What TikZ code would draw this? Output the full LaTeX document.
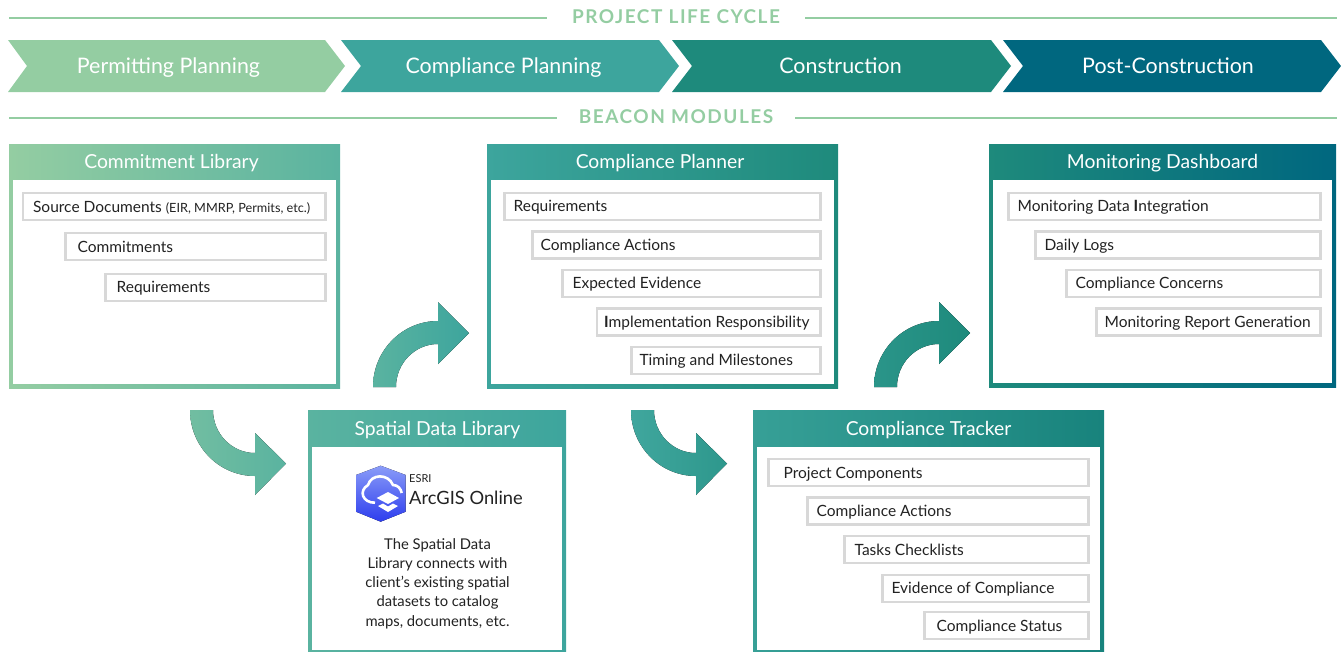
\documentclass[tikz,border=0pt]{standalone}
\usepackage{fontspec}
\setmainfont{Lato}
\usetikzlibrary{positioning}
\definecolor{cgreen}{HTML}{94CDA2}
\definecolor{cmint}{HTML}{5AB3A0}
\definecolor{cteal}{HTML}{3DA59D}
\definecolor{cdeep}{HTML}{1E8A7C}
\definecolor{cblue}{HTML}{00677F}
\definecolor{cgrey}{HTML}{D8D8D8}
\definecolor{ctext}{HTML}{222222}
\definecolor{chexa}{HTML}{8A9CF8}
\definecolor{chexb}{HTML}{2D3DEE}

\begin{document}
\begin{tikzpicture}[x=1pt,y=-1pt,
  rulehead/.style={font=\bfseries\fontsize{19}{19}\selectfont,text=cgreen,inner sep=0pt,text height=13.7pt,text depth=0pt},
  rule line/.style={draw=cgreen,line width=2.5pt},
  phase/.style={font=\fontsize{21.4}{21.4}\selectfont,text=white,inner sep=0pt,text height=15.4pt,text depth=0pt},
  panel/.style={anchor=north west,inner sep=0pt,outer sep=0pt},
  hole/.style={anchor=north west,fill=white,inner sep=0pt,outer sep=0pt},
  head/.style={font=\fontsize{19.3}{19.3}\selectfont,text=white,inner sep=0pt,text height=13.9pt,text depth=0pt},
  item/.style={anchor=north east,draw=cgrey,line width=2.3pt,fill=white,minimum height=27pt,inner sep=0pt},
  label/.style={inner sep=0pt,text=ctext,font=\fontsize{15.5}{15.5}\selectfont,text height=11.2pt,text depth=0pt},
  body/.style={font=\fontsize{14.8}{19.2}\selectfont,text=ctext,align=center,inner sep=0pt}]
  \useasboundingbox (0,0) rectangle (1341,651);
  \clip (0,0) rectangle (1341,651);

  \coordinate (l1) at (9,18);
  \coordinate (l2) at (547,18);
  \coordinate (l3) at (805,18);
  \coordinate (l4) at (1337,18);
  \coordinate (m1) at (9,118);
  \coordinate (m2) at (557,118);
  \coordinate (m3) at (795,118);
  \coordinate (m4) at (1337,118);
  \draw[rule line] (l1) -- (l2) (l3) -- (l4) (m1) -- (m2) (m3) -- (m4);
  \node[rulehead] (lifecycle) at (676,17) {\addfontfeature{LetterSpace=8}PROJECT LIFE CYCLE};
  \node[rulehead] (modules) at (676,117) {\addfontfeature{LetterSpace=8}BEACON MODULES};

  % phases
  \fill[cgreen] (8,40) -- (325,40) -- (345,66) -- (325,92) -- (8,92) -- (27,66) -- cycle;
  \fill[cteal] (341,40) -- (659,40) -- (679,66) -- (659,92) -- (341,92) -- (361,66) -- cycle;
  \fill[cdeep] (672,40) -- (991,40) -- (1011,66) -- (991,92) -- (672,92) -- (692,66) -- cycle;
  \fill[cblue] (1003,40) -- (1321,40) -- (1341,66) -- (1321,92) -- (1003,92) -- (1023,66) -- cycle;
  \node[phase] (permit) at (168.5,66) {Permitting Planning};
  \node[phase] (plan) at (503.5,66) {Compliance Planning};
  \node[phase] (build) at (840.5,66) {Construction};
  \node[phase] (post) at (1168,66) {Post-Construction};

  % commitment library
  \node[panel,left color=cgreen,right color=cmint,minimum width=331pt,minimum height=244pt] (commit) at (9,144) {};
  \node[hole,minimum width=323pt,minimum height=204pt] (commitin) at (13,180) {};
  \node[head] (committitle) at (171.5,162) {Commitment Library};
  \node[item,minimum width=302.5pt] (source) at (326.7,192) {};
  \node[item,minimum width=260pt] (commitments) at (326.7,232) {};
  \node[item,minimum width=220pt] (commitreq) at (326.7,272.5) {};
  \node[label,right=11pt of source.west] (sourcetext) {Source Documents {\fontsize{12.7}{12.7}\selectfont(EIR, MMRP, Permits, etc.)}};
  \node[label,right=13pt of commitments.west] (commitmentstext) {Commitments};
  \node[label,right=12pt of commitreq.west] (commitreqtext) {Requirements};

  % spatial data library
  \node[panel,left color=cmint,right color=cteal,minimum width=258pt,minimum height=241pt] (spatial) at (308,410) {};
  \node[hole,minimum width=250pt,minimum height=203pt] (spatialin) at (312,446.5) {};
  \node[head] (spatialtitle) at (437.5,428.5) {Spatial Data Library};
  \fill[top color=chexa,bottom color=chexb] (380.7,465.7) -- (405.7,475) -- (405.7,511.7) -- (380.7,521.7) -- (356,511.7) -- (356,475) -- cycle;
  \draw[white,line width=2.6pt] (375,502.7) .. controls (363,503) and (358,491) .. (368,485)
    .. controls (371,474) and (388,473) .. (393,485) .. controls (398,485) and (401,489) .. (401.7,493);
  \fill[white] (376.7,498) -- (388,492) -- (399,498) -- (388,504) -- cycle;
  \fill[white] (378,506) -- (383,503.5) -- (388,506.5) -- (393,503.5) -- (398,506) -- (388,512) -- cycle;
  \node[inner sep=0pt,anchor=west,text=ctext,font=\fontsize{11}{11}\selectfont] (esri) at (409,479) {ESRI};
  \node[inner sep=0pt,anchor=west,text=ctext,font=\fontsize{18.3}{18.3}\selectfont] (arcgis) at (409,498) {ArcGIS Online};
  \node[body] (spatialtext) at (437.5,583.5) {The Spatial Data\\Library connects with\\client's existing spatial\\datasets to catalog\\maps, documents, etc.};

  % compliance planner
  \node[panel,left color=cteal,right color=cdeep,minimum width=351pt,minimum height=244pt] (planner) at (487,144) {};
  \node[hole,minimum width=343pt,minimum height=204pt] (plannerin) at (491,180) {};
  \node[head] (plannertitle) at (660,162) {Compliance Planner};
  \node[item,minimum width=316pt] (plannerreq) at (821.7,191.7) {};
  \node[item,minimum width=288pt] (planneract) at (821.7,230.2) {};
  \node[item,minimum width=258pt] (evidence) at (821.7,268.7) {};
  \node[item,minimum width=223.5pt] (respons) at (821.7,307.2) {};
  \node[item,minimum width=189pt] (timing) at (821.7,345.7) {};
  \node[label,right=10pt of plannerreq.west] (plannerreqtext) {Requirements};
  \node[label,right=9pt of planneract.west] (planneracttext) {Compliance Actions};
  \node[label,right=11pt of evidence.west] (evidencetext) {Expected Evidence};
  \node[label,right=8pt of respons.west] (responstext) {{\bfseries I}mplementation Responsibility};
  \node[label,right=9pt of timing.west] (timingtext) {Timing and Milestones};

  % compliance tracker
  \node[panel,left color=cteal!80!cdeep,right color=cdeep!80!cblue,minimum width=351pt,minimum height=241pt] (tracker) at (753,410) {};
  \node[hole,minimum width=343pt,minimum height=203pt] (trackerin) at (757,446.5) {};
  \node[head] (trackertitle) at (928.5,428.5) {Compliance Tracker};
  \node[item,minimum width=320pt] (components) at (1089.7,458) {};
  \node[item,minimum width=281pt] (trackeract) at (1089.7,496.3) {};
  \node[item,minimum width=244pt] (tasks) at (1089.7,534.8) {};
  \node[item,minimum width=206pt] (trackerev) at (1089.7,573.5) {};
  \node[item,minimum width=164pt] (status) at (1089.7,611) {};
  \node[label,right=16pt of components.west] (componentstext) {Project Components};
  \node[label,right=10pt of trackeract.west] (trackeracttext) {Compliance Actions};
  \node[label,right=11pt of tasks.west] (taskstext) {Tasks Checklists};
  \node[label,right=10pt of trackerev.west] (trackerevtext) {Evidence of Compliance};
  \node[label,right=13pt of status.west] (statustext) {Compliance Status};

  % monitoring dashboard
  \node[panel,left color=cdeep,right color=cblue,minimum width=347pt,minimum height=243pt] (monitor) at (989,144) {};
  \node[hole,minimum width=339pt,minimum height=203pt] (monitorin) at (993,180) {};
  \node[head] (monitortitle) at (1162.5,162) {Monitoring Dashboard};
  \node[item,minimum width=312pt] (integration) at (1321.7,191.7) {};
  \node[item,minimum width=285pt] (logs) at (1321.7,230.2) {};
  \node[item,minimum width=254pt] (concerns) at (1321.7,268.7) {};
  \node[item,minimum width=224pt] (report) at (1321.7,307.2) {};
  \node[label,right=10pt of integration.west] (integrationtext) {Monitoring Data {\bfseries I}ntegration};
  \node[label,right=10pt of logs.west] (logstext) {Daily Logs};
  \node[label,right=10pt of concerns.west] (concernstext) {Compliance Concerns};
  \node[label,right=9pt of report.west] (reporttext) {Monitoring Report Generation};

  % block arrows
  \coordinate (commitout) at (190,410);
  \coordinate (plannerout) at (631,410);
  \coordinate (commitup) at (373,387);
  \coordinate (trackerup) at (874,387);
  \fill[left color=cgreen!40!cmint,right color=cmint] (commitout) arc (180:90:65 and 66) -- ++(0,19) -- ++(31,-31.5) -- ++(-31,-30.5) -- ++(0,20) arc (90:180:42 and 43) -- cycle;
  \fill[left color=cteal!90!cmint,right color=cteal!50!cdeep] (plannerout) arc (180:90:65 and 66) -- ++(0,19) -- ++(31,-31.5) -- ++(-31,-30.5) -- ++(0,20) arc (90:180:42 and 43) -- cycle;
  \fill[left color=cmint,right color=cteal] (commitup) arc (180:270:65 and 66) -- ++(0,-19) -- ++(31,31) -- ++(-31,31) -- ++(0,-20) arc (270:180:42 and 43) -- cycle;
  \fill[left color=cteal!40!cdeep,right color=cdeep] (trackerup) arc (180:270:65 and 66) -- ++(0,-19) -- ++(31,31) -- ++(-31,31) -- ++(0,-20) arc (270:180:42 and 43) -- cycle;
\end{tikzpicture}
\end{document}
